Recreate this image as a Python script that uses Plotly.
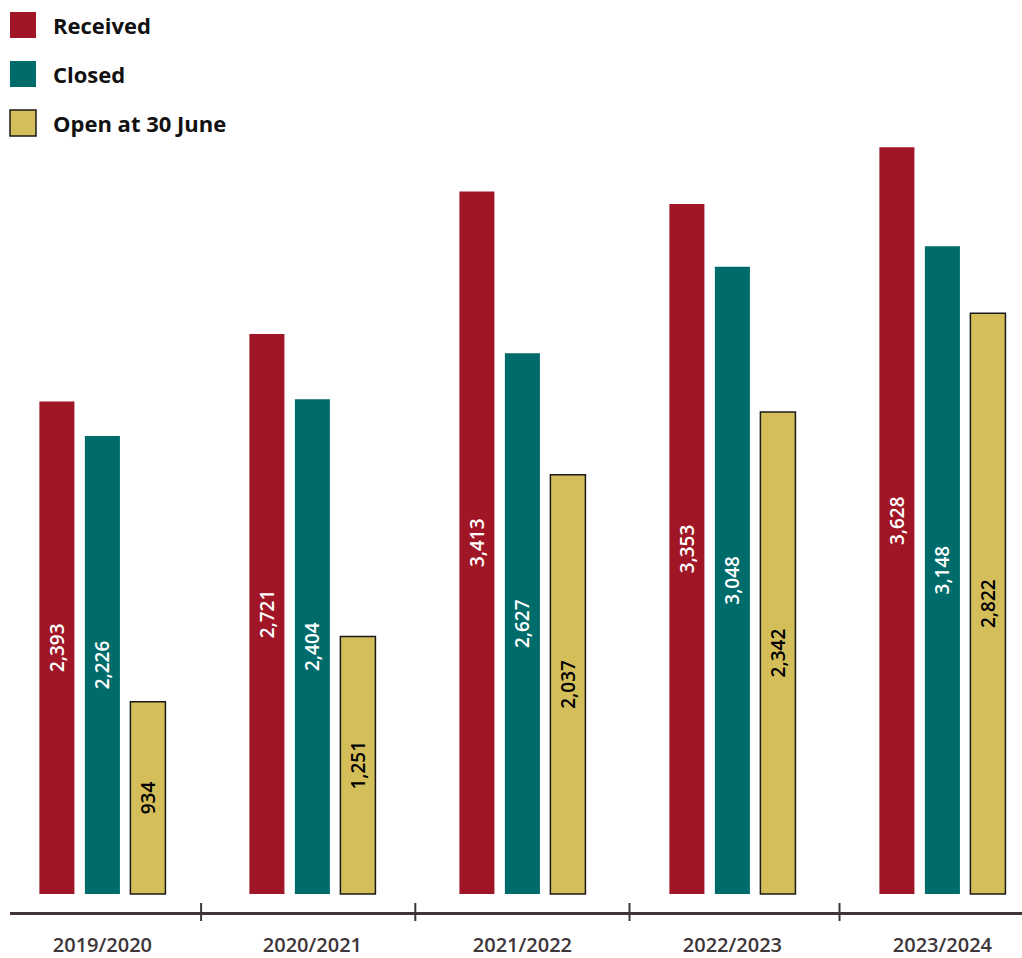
import plotly.graph_objects as go

years = ["2019/2020", "2020/2021", "2021/2022", "2022/2023", "2023/2024"]
received = [2393, 2721, 3413, 3353, 3628]
closed = [2226, 2404, 2627, 3048, 3148]
open_june = [934, 1251, 2037, 2342, 2822]

series_names = ["Received", "Closed", "Open at 30 June"]
colors = ["#A01626", "#006B6B", "#D4BE5A"]
text_colors = ["white", "white", "black"]
outline = ["#A01626", "#006B6B", "#1a1a1a"]
outline_w = [0, 0, 1.5]

FONT = "Open Sans"
DARK = "#3d3538"

fig = go.Figure()
for name, vals, c, tc, lc, lw in zip(series_names, [received, closed, open_june],
                                     colors, text_colors, outline, outline_w):
    fig.add_trace(go.Bar(
        x=years, y=vals, name=name,
        marker=dict(color=c, line=dict(color=lc, width=lw)),
        text=[f"{v:,}" for v in vals],
        textposition="inside", insidetextanchor="middle", textangle=-90,
        insidetextfont=dict(color=tc, size=19, family=FONT, weight=600),
        showlegend=False, hoverinfo="x+y+name",
    ))

# custom legend (large squares)
shapes = []
annotations = []
for i, (name, c, lc, lw) in enumerate(zip(series_names, colors, outline, outline_w)):
    top = 12 + i * 49
    shapes.append(dict(
        type="rect", xref="paper", yref="paper",
        xsizemode="pixel", ysizemode="pixel", xanchor=0, yanchor=1,
        x0=0, x1=26, y0=-top, y1=-(top + 26),
        fillcolor=c, line=dict(color=lc if lw else c, width=lw if lw else 0),
    ))
    annotations.append(dict(
        xref="paper", yref="paper", x=0, y=1, xanchor="left", yanchor="middle",
        xshift=41, yshift=-(top + 13), text=name, showarrow=False,
        font=dict(family=FONT, size=22, color="#111111", weight=700),
    ))

# crossing tick marks at category boundaries
for b in [0.47, 1.49, 2.51, 3.51]:
    shapes.append(dict(
        type="line", xref="x", yref="paper", x0=b, x1=b,
        ysizemode="pixel", yanchor=0, y0=-9, y1=9,
        line=dict(color=DARK, width=2),
    ))

fig.update_layout(
    width=1022, height=958,
    margin=dict(l=10, r=0, t=0, b=46),
    paper_bgcolor="white", plot_bgcolor="white",
    barmode="group", bargap=0.35, bargroupgap=0.23,
    xaxis=dict(
        range=[-0.44, 4.379], showline=True, linewidth=3, linecolor=DARK,
        ticks="", showgrid=False, zeroline=False, ticklabelstandoff=13,
        tickfont=dict(family=FONT, size=20, color=DARK, weight=600),
    ),
    yaxis=dict(range=[-87.5, 4344], visible=False, showgrid=False, zeroline=False),
    shapes=shapes, annotations=annotations,
)

fig.write_html("out.html")
